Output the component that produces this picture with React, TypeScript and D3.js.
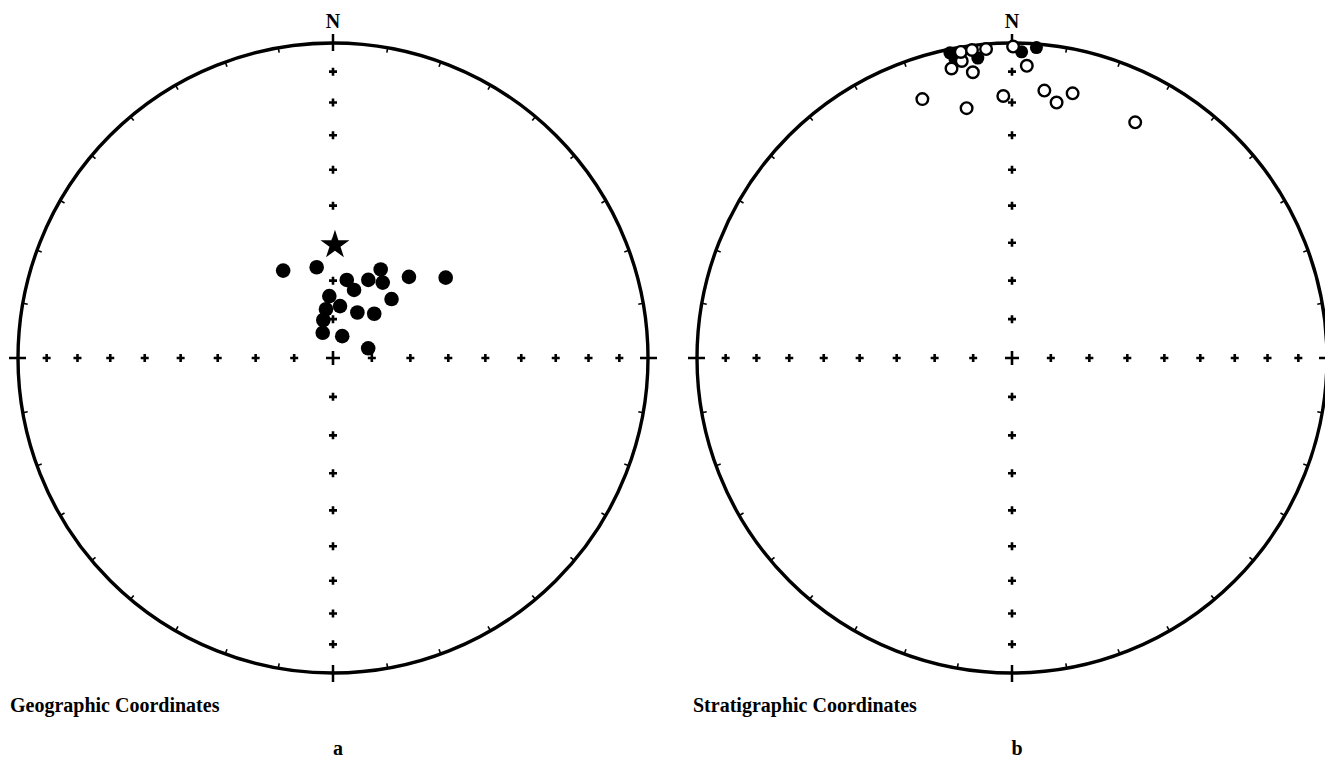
import React from "react";
import * as d3 from "d3";

// Geographic coordinates (panel a): declination, inclination (deg), lower hemisphere
const geoDec = [330.3, 349.8, 10.0, 17.2, 24.3, 28.3, 33.4, 43.1, 54.5, 44.8, 356.6, 7.7, 351.8, 28.2, 43.0, 345.7, 337.8, 22.9, 74.6];
const geoInc = [63.9, 66.1, 69.5, 71.6, 67.8, 63.9, 66.6, 61.1, 53.8, 68.5, 74.0, 76.5, 77.3, 76.7, 74.4, 79.9, 83.0, 83.9, 80.6];
const geoMeanDec = [1.0];
const geoMeanInc = [60.6];

// Stratigraphic coordinates (panel b): negative inclination = upper hemisphere (open)
const stratDec = [348.5, 349.2, 353.5, 1.8, 4.5, 340.9, 349.7, 358.1, 6.9, 9.9, 12.9, 27.6, 348.2, 352.2, 350.4, 350.5, 352.6, 355.2, 0.2, 2.9];
const stratInc = [1.3, 3.8, 4.7, 3.1, 1.3, -14.1, -20.5, -17.9, -15.6, -18.8, -14.9, -16.7, -6.8, -9.3, -4.9, -1.7, -1.6, -1.8, -1.3, -7.9];

const gridInc = [10, 20, 30, 40, 50, 60, 70, 80];
const rimAz = d3.range(0, 360, 10);
const axisAz = [0, 90, 180, 270];

const W = 1325;
const H = 758;
const R = 315;
const CY = 358;
const centersX = [333, 1012];

const rad = (d: number) => (d * Math.PI) / 180;
// equal-area (Schmidt) projection: r = R * sqrt(1 - sin|I|)
const rScale = d3.scaleSqrt().domain([0, 1]).range([0, R]);
const proj = (dec: number, inc: number): [number, number] => {
  const r = rScale(1 - Math.sin(rad(Math.abs(inc))));
  return [r * Math.sin(rad(dec)), -r * Math.cos(rad(dec))];
};

const FONT = "'Liberation Serif', 'Times New Roman', serif";

function Net({ cx, label, labelX }: { cx: number; label: string; labelX: number }) {
  const crosses: [number, number][] = [];
  axisAz.forEach((az) => gridInc.forEach((i) => crosses.push(proj(az, i))));
  return (
    <g transform={`translate(${cx},${CY})`}>
      <circle r={R} fill="none" stroke="#000" strokeWidth={3.4} />
      {rimAz.map((az) => {
        const isAxis = az % 90 === 0;
        const r0 = isAxis ? R - 8 : R - 5;
        const r1 = isAxis ? R + 9 : R;
        return (
          <line
            key={az}
            x1={r0 * Math.sin(rad(az))}
            y1={-r0 * Math.cos(rad(az))}
            x2={r1 * Math.sin(rad(az))}
            y2={-r1 * Math.cos(rad(az))}
            stroke="#000"
            strokeWidth={isAxis ? 2.5 : 1.6}
          />
        );
      })}
      {crosses.map(([x, y], k) => (
        <path key={k} d={`M${x - 4},${y}H${x + 4}M${x},${y - 4}V${y + 4}`} stroke="#000" strokeWidth={2.6} />
      ))}
      <path d="M-7,0H7M0,-7V7" stroke="#000" strokeWidth={2.6} />
      <text x={0} y={-330} textAnchor="middle" fontFamily={FONT} fontWeight="bold" fontSize={20}>N</text>
      <text x={labelX - cx} y={354} fontFamily={FONT} fontWeight="bold" fontSize={20}>{label}</text>
    </g>
  );
}

export default function App() {
  const star = d3.symbol(d3.symbolStar, 260)();
  const geo = geoDec.map((d, i) => proj(d, geoInc[i]));
  const strat = stratDec.map((d, i) => ({ p: proj(d, stratInc[i]), down: stratInc[i] >= 0 }));
  return (
    <svg width={W} height={H} style={{ position: "fixed", left: 0, top: 0, background: "#fff" }}>
      <rect width={W} height={H} fill="#fff" />
      <Net cx={centersX[0]} label="Geographic Coordinates" labelX={10} />
      <Net cx={centersX[1]} label="Stratigraphic Coordinates" labelX={693} />
      <g transform={`translate(${centersX[0]},${CY})`}>
        {geo.map(([x, y], i) => (
          <circle key={i} cx={x} cy={y} r={7.3} fill="#000" />
        ))}
        {geoMeanDec.map((d, i) => {
          const [x, y] = proj(d, geoMeanInc[i]);
          return <path key={i} d={star || ""} transform={`translate(${x},${y})`} fill="#000" />;
        })}
      </g>
      <g transform={`translate(${centersX[1]},${CY})`}>
        {strat.filter((s) => s.down).map((s, i) => (
          <circle key={"f" + i} cx={s.p[0]} cy={s.p[1]} r={6.5} fill="#000" />
        ))}
        {strat.filter((s) => !s.down).map((s, i) => (
          <circle key={"o" + i} cx={s.p[0]} cy={s.p[1]} r={5.8} fill="#fff" stroke="#000" strokeWidth={2.4} />
        ))}
      </g>
      <text x={338} y={755} textAnchor="middle" fontFamily={FONT} fontWeight="bold" fontSize={20}>a</text>
      <text x={1017} y={755} textAnchor="middle" fontFamily={FONT} fontWeight="bold" fontSize={20}>b</text>
    </svg>
  );
}
